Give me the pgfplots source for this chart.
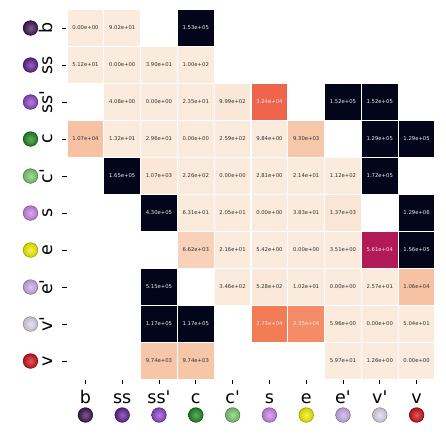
\documentclass[border=0pt]{standalone}
\usepackage{pgfplots}
\pgfplotsset{compat=1.18}
\usepackage{fontspec}
\setmainfont{DejaVu Sans}
\definecolor{dk}{gray}{0.2}
\definecolor{wt}{gray}{0.92}
\definecolor{cB}{RGB}{62,24,86}
\definecolor{cSS}{RGB}{98,36,150}
\definecolor{cSSp}{RGB}{142,72,204}
\definecolor{cC}{RGB}{34,134,34}
\definecolor{cCp}{RGB}{124,204,112}
\definecolor{cS}{RGB}{202,134,232}
\definecolor{cE}{RGB}{242,240,0}
\definecolor{cEp}{RGB}{202,174,232}
\definecolor{cVp}{RGB}{222,214,234}
\definecolor{cV}{RGB}{204,20,26}
\newcommand{\ballpic}[1]{\begin{tikzpicture}\shade[inner color=#1!70!white, outer color=#1!85!black] (0,0) circle (7.5pt);\draw[#1!60!black, line width=0.4pt] (0,0) circle (7.3pt);\end{tikzpicture}}
\newsavebox\bA\newsavebox\bB\newsavebox\bC\newsavebox\bD\newsavebox\bE
\newsavebox\bF\newsavebox\bG\newsavebox\bH\newsavebox\bI\newsavebox\bJ
\newcommand{\q}{\textquotesingle}
\pgfplotstableread{
x y v t
0 9 0.00e+00 0
1 9 9.02e+01 0
3 9 1.53e+05 1
0 8 5.12e+01 0
1 8 0.00e+00 0
2 8 3.90e+01 0
3 8 1.00e+02 0
1 7 4.08e+00 0
2 7 0.00e+00 0
3 7 2.35e+01 0
4 7 9.99e+02 0
5 7 3.24e+04 1
7 7 1.52e+05 1
8 7 1.52e+05 1
0 6 1.07e+04 0
1 6 1.32e+01 0
2 6 2.96e+01 0
3 6 0.00e+00 0
4 6 2.59e+02 0
5 6 9.84e+00 0
6 6 9.30e+03 0
8 6 1.29e+05 1
9 6 1.29e+05 1
1 5 1.65e+05 1
2 5 1.07e+03 0
3 5 2.26e+02 0
4 5 0.00e+00 0
5 5 2.81e+00 0
6 5 2.14e+01 0
7 5 1.12e+02 0
8 5 1.72e+05 1
2 4 4.30e+05 1
3 4 6.31e+01 0
4 4 2.05e+01 0
5 4 0.00e+00 0
6 4 3.83e+01 0
7 4 1.37e+03 0
9 4 1.29e+06 1
3 3 6.62e+03 0
4 3 2.16e+01 0
5 3 5.42e+00 0
6 3 0.00e+00 0
7 3 3.51e+00 0
8 3 5.61e+04 1
9 3 1.56e+05 1
2 2 5.15e+05 1
4 2 3.46e+02 0
5 2 5.28e+02 0
6 2 1.02e+01 0
7 2 0.00e+00 0
8 2 2.57e+01 0
9 2 1.06e+04 0
2 1 1.17e+05 1
3 1 1.17e+05 1
5 1 2.73e+04 1
6 1 2.35e+04 1
7 1 5.96e+00 0
8 1 0.00e+00 0
9 1 5.04e+01 0
2 0 9.74e+03 0
3 0 9.74e+03 0
7 0 5.97e+01 0
8 0 1.26e+00 0
9 0 0.00e+00 0
}\cells
\begin{document}
\sbox\bA{\ballpic{cB}}\sbox\bB{\ballpic{cSS}}\sbox\bC{\ballpic{cSSp}}\sbox\bD{\ballpic{cC}}\sbox\bE{\ballpic{cCp}}%
\sbox\bF{\ballpic{cS}}\sbox\bG{\ballpic{cE}}\sbox\bH{\ballpic{cEp}}\sbox\bI{\ballpic{cVp}}\sbox\bJ{\ballpic{cV}}%
\begin{tikzpicture}
\begin{axis}[
  at={(0,0)}, anchor=south west,
  scale only axis, width=368pt, height=370pt,
  xmin=-0.5, xmax=9.5, ymin=-0.5, ymax=9.5,
  axis line style={draw=none},
  tick align=outside, xtick pos=lower, ytick pos=left,
  major tick length=4.9pt,
  tick style={black, line width=0.8pt},
  tick label style={font=\fontsize{17.5}{20}\selectfont},
  xtick={0,...,9},
  xticklabels={b,ss,ss\q,c,c\q,s,e,e\q,v\q,v},
  ytick={0,...,9},
  yticklabels={v,v\q,e\q,e,s,c\q,c,ss\q,ss,b},
  every x tick label/.style={anchor=base, yshift=-19.1pt},
  every y tick label/.style={xshift=-9.4pt, rotate=90, anchor=base},
  extra x ticks={0,...,9},
  extra x tick labels={\usebox\bA,\usebox\bB,\usebox\bC,\usebox\bD,\usebox\bE,\usebox\bF,\usebox\bG,\usebox\bH,\usebox\bI,\usebox\bJ},
  extra x tick style={major tick length=0pt, every x tick label/.style={anchor=center, yshift=-35.5pt}},
  extra y ticks={9,8,7,6,5,4,3,2,1,0},
  extra y tick labels={\usebox\bA,\usebox\bB,\usebox\bC,\usebox\bD,\usebox\bE,\usebox\bF,\usebox\bG,\usebox\bH,\usebox\bI,\usebox\bJ},
  extra y tick style={major tick length=0pt, every y tick label/.style={anchor=center, xshift=-36.5pt}},
  colormap={rocketr}{rgb255=(250,235,221) rgb255=(246,180,143) rgb255=(243,118,81) rgb255=(225,51,66) rgb255=(173,23,89) rgb255=(112,31,87) rgb255=(53,25,62) rgb255=(3,5,26)},
  point meta min=0, point meta max=100000,
]
\addplot[scatter, only marks, mark=square*, mark size=18.45pt,
  mark options={line width=1.2pt},
  scatter/use mapped color={draw=white, fill=mapped color},
  point meta=explicit,
] table[x=x, y=y, meta=v] {\cells};
\addplot[only marks, mark=none, point meta=explicit symbolic,
  x filter/.expression={\thisrow{t}==0 ? x : nan},
  nodes near coords, nodes near coords align=center,
  every node near coord/.append style={anchor=center, inner sep=0pt, text=dk, font=\fontsize{5.3}{6}\selectfont},
] table[x=x, y=y, meta=v] {\cells};
\addplot[only marks, mark=none, point meta=explicit symbolic,
  x filter/.expression={\thisrow{t}==1 ? x : nan},
  nodes near coords, nodes near coords align=center,
  every node near coord/.append style={anchor=center, inner sep=0pt, text=wt, font=\fontsize{5.3}{6}\selectfont},
] table[x=x, y=y, meta=v] {\cells};
\end{axis}
\pgfresetboundingbox
\path[use as bounding box] (-67pt,-65.5pt) rectangle (379pt,379.5pt);
\end{tikzpicture}
\end{document}
